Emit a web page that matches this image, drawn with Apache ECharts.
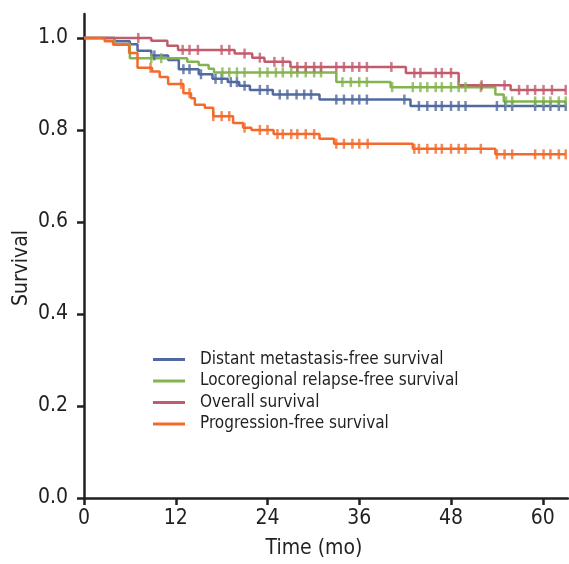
<!DOCTYPE html>
<html><head><meta charset="utf-8">
<script src="https://cdn.jsdelivr.net/npm/echarts@6/dist/echarts.min.js"></script>
<style>html,body{margin:0;padding:0;background:#fff}#c{width:569px;height:564px}</style>
</head><body><div id="c"></div>
<script>
// ---- data ----
const xTicks = [0, 12, 24, 36, 48, 60];
const yTicks = [0, 0.2, 0.4, 0.6, 0.8, 1.0];
const seriesNames = ['Distant metastasis-free survival', 'Locoregional relapse-free survival', 'Overall survival', 'Progression-free survival'];

const dmfsTimes = [0, 4.0, 6.0, 7.0, 8.8, 11.0, 12.4, 15.0, 16.8, 18.8, 20.3, 21.7, 24.7, 30.8, 42.7, 63];
const dmfsSurv  = [1, 0.993, 0.986, 0.972, 0.962, 0.952, 0.932, 0.921, 0.911, 0.904, 0.896, 0.887, 0.877, 0.866, 0.852, 0.852];
const dmfsCensor = [9.2, 13, 13.8, 15.3, 17.2, 18, 19.2, 20, 21, 23, 24, 25.6, 26.6, 27.8, 28.8, 29.7, 33, 34, 35.1, 36, 37, 41.9, 43.8, 44.9, 46, 46.8, 48, 49, 49.9, 54, 55.1, 56, 59, 60.1, 61, 62.1, 63];

const lrfsTimes = [0, 4.0, 6.0, 13.5, 15.0, 16.3, 17.0, 33.0, 40.1, 53.8, 54.9, 63];
const lrfsSurv  = [1, 0.987, 0.956, 0.948, 0.941, 0.933, 0.925, 0.904, 0.893, 0.877, 0.862, 0.862];
const lrfsCensor = [8.8, 10.1, 18.1, 19, 20, 21, 23, 24, 25.1, 26, 27.1, 27.9, 29, 30.1, 31, 33.8, 34.9, 36, 37, 40.3, 43, 44, 44.9, 46, 46.8, 48, 49, 49.9, 51.9, 55.2, 56, 59, 60.1, 61, 62.1, 63];

const osTimes = [0, 8.8, 10.9, 12.3, 19.7, 22.0, 23.6, 27.0, 42.1, 49.0, 55.8, 63];
const osSurv  = [1, 0.994, 0.983, 0.974, 0.966, 0.957, 0.948, 0.937, 0.924, 0.897, 0.887, 0.887];
const osCensor = [7.1, 12.9, 13.8, 14.9, 18, 19, 21, 23, 24.9, 26, 27.9, 29, 30.1, 31, 33, 34, 35.1, 36, 37, 40.2, 43.2, 44, 46, 46.8, 48, 52, 55, 56.9, 58, 59, 60.1, 61.2, 63];

const pfsTimes = [0, 2.7, 3.8, 5.9, 7.0, 8.9, 9.9, 11.0, 13.0, 14.0, 14.5, 15.8, 16.9, 19.5, 20.8, 21.9, 24.8, 30.8, 32.7, 43.0, 53.8, 63];
const pfsSurv  = [1, 0.993, 0.985, 0.967, 0.935, 0.927, 0.915, 0.900, 0.880, 0.869, 0.855, 0.848, 0.830, 0.815, 0.805, 0.800, 0.791, 0.781, 0.770, 0.759, 0.747, 0.747];
const pfsCensor = [8.7, 12.7, 13.8, 16.9, 18, 19, 21, 23, 24, 25.3, 26, 27.1, 27.9, 29, 30.1, 33, 34, 35.1, 36, 37.1, 43.2, 43.8, 44.9, 46, 46.8, 48, 49, 49.9, 51.9, 54, 55, 56, 59, 60.1, 61, 62.1, 63];

const colors = ['#50699F', '#84B44F', '#C25B6B', '#F36B2C'];

// ---- build ----
function pts(times, surv) { return times.map((t, i) => [t, surv[i]]); }
function stepAt(times, surv, t) {
  let v = surv[0];
  for (let i = 0; i < times.length; i++) { if (times[i] <= t) v = surv[i]; }
  return v;
}
const groups = [
  [dmfsTimes, dmfsSurv, dmfsCensor],
  [lrfsTimes, lrfsSurv, lrfsCensor],
  [osTimes, osSurv, osCensor],
  [pfsTimes, pfsSurv, pfsCensor]
];
const FONT = "'Liberation Sans Narrow','DejaVu Sans Condensed',Roboto,sans-serif";
const TXT = '#231f20';
const series = [];
groups.forEach((g, i) => {
  series.push({
    name: seriesNames[i], type: 'line', step: 'end', showSymbol: false,
    data: pts(g[0], g[1]), color: colors[i],
    lineStyle: { width: 2.5, color: colors[i] }, z: 3
  });
});
groups.forEach((g, i) => {
  series.push({
    name: seriesNames[i] + ' censored', type: 'scatter', symbol: 'rect', symbolSize: [2.5, 10],
    data: g[2].map(t => [t, stepAt(g[0], g[1], t)]),
    itemStyle: { color: colors[i] }, z: 4
  });
});

const chart = echarts.init(document.getElementById('c'), null, { renderer: 'canvas' });
chart.setOption({
  animation: false,
  backgroundColor: '#fff',
  grid: { left: 84, right: 1, top: 14, bottom: 64, containLabel: false },
  legend: {
    data: seriesNames, orient: 'vertical', left: 148, top: 346,
    icon: 'rect', itemWidth: 32, itemHeight: 3, itemGap: 4.5,
    textStyle: { fontFamily: FONT, fontSize: 17, color: TXT, padding: [0, 0, 0, 10] }
  },
  xAxis: {
    type: 'value', min: 0, max: 63.3,
    name: 'Time (mo)', nameLocation: 'middle', nameGap: 40,
    nameTextStyle: { fontFamily: FONT, fontSize: 21, color: TXT, padding: [0, 24, 0, 0] },
    axisLine: { lineStyle: { color: TXT, width: 2.5 } },
    axisTick: { customValues: xTicks, length: 7, lineStyle: { color: TXT, width: 2.5 } },
    axisLabel: { customValues: xTicks, margin: 10, fontFamily: FONT, fontSize: 21, color: TXT },
    splitLine: { show: false }
  },
  yAxis: {
    type: 'value', min: 0, max: 1.052,
    name: 'Survival', nameLocation: 'middle', nameGap: 52, nameMoveOverlap: false,
    nameTextStyle: { fontFamily: FONT, fontSize: 21, color: TXT, padding: [0, 24, 0, 0] },
    axisLine: { show: true, lineStyle: { color: TXT, width: 2.5 } },
    axisTick: { show: true, customValues: yTicks, length: 7, lineStyle: { color: TXT, width: 2.5 } },
    axisLabel: { customValues: yTicks, margin: 16, fontFamily: FONT, fontSize: 21, color: TXT,
      formatter: v => v.toFixed(1) },
    splitLine: { show: false }
  },
  series: series
});
</script>
</body></html>
